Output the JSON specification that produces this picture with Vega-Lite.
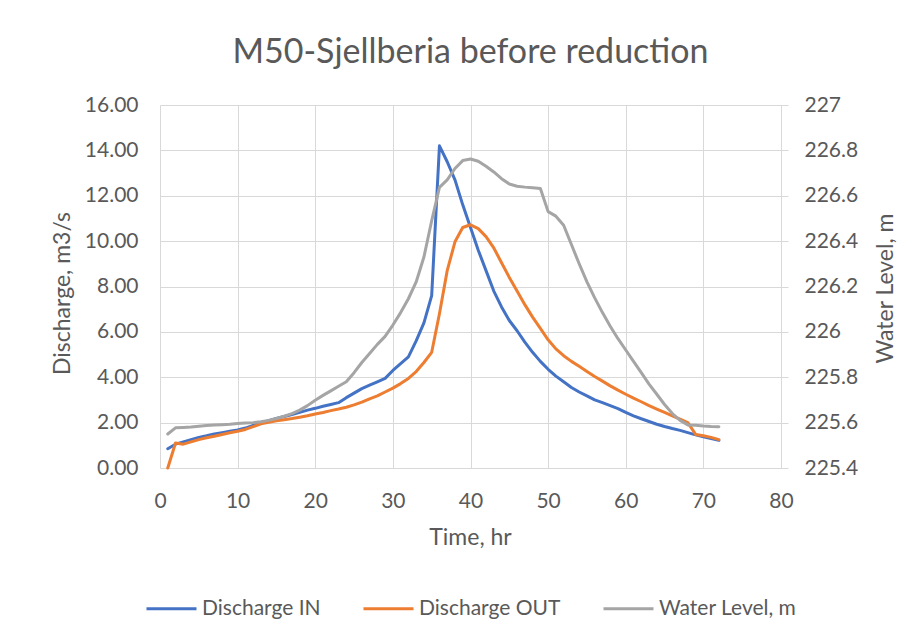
{
  "$schema": "https://vega.github.io/schema/vega-lite/v6.json",
  "width": 621,
  "height": 363,
  "autosize": {"type": "none"},
  "padding": {"left": 160, "top": 105, "right": 138, "bottom": 176},
  "background": "white",
  "title": {
    "text": "M50-Sjellberia before reduction",
    "font": "Lato",
    "fontSize": 34,
    "fontWeight": "normal",
    "color": "#595959",
    "anchor": "middle",
    "frame": "group",
    "baseline": "alphabetic",
    "offset": -3
  },
  "config": {
    "view": {"stroke": null},
    "axis": {
      "labelFont": "Lato",
      "labelFontSize": 21,
      "labelColor": "#595959",
      "labelFlush": false,
      "labelOverlap": false,
      "titleFont": "Lato",
      "titleFontSize": 23,
      "titleFontWeight": "normal",
      "titleColor": "#595959",
      "gridColor": "#D9D9D9",
      "gridWidth": 1,
      "domainColor": "#D9D9D9",
      "tickColor": "#D9D9D9"
    },
    "legend": {
      "labelFont": "Lato",
      "labelFontSize": 21,
      "labelColor": "#595959"
    }
  },
  "data": {
    "values": [
      {"t": 1, "Discharge IN": 0.85, "Discharge OUT": 0.0, "WL": 225.55},
      {"t": 2, "Discharge IN": 1.05, "Discharge OUT": 1.1, "WL": 225.577},
      {"t": 3, "Discharge IN": 1.15, "Discharge OUT": 1.05, "WL": 225.579},
      {"t": 4, "Discharge IN": 1.25, "Discharge OUT": 1.15, "WL": 225.581},
      {"t": 5, "Discharge IN": 1.35, "Discharge OUT": 1.25, "WL": 225.584},
      {"t": 6, "Discharge IN": 1.42, "Discharge OUT": 1.33, "WL": 225.587},
      {"t": 7, "Discharge IN": 1.5, "Discharge OUT": 1.4, "WL": 225.589},
      {"t": 8, "Discharge IN": 1.56, "Discharge OUT": 1.48, "WL": 225.591},
      {"t": 9, "Discharge IN": 1.62, "Discharge OUT": 1.55, "WL": 225.593},
      {"t": 10, "Discharge IN": 1.68, "Discharge OUT": 1.62, "WL": 225.596},
      {"t": 11, "Discharge IN": 1.76, "Discharge OUT": 1.7, "WL": 225.598},
      {"t": 12, "Discharge IN": 1.88, "Discharge OUT": 1.82, "WL": 225.6},
      {"t": 13, "Discharge IN": 1.98, "Discharge OUT": 1.95, "WL": 225.604},
      {"t": 14, "Discharge IN": 2.08, "Discharge OUT": 2.02, "WL": 225.61},
      {"t": 15, "Discharge IN": 2.18, "Discharge OUT": 2.08, "WL": 225.618},
      {"t": 16, "Discharge IN": 2.27, "Discharge OUT": 2.13, "WL": 225.628},
      {"t": 17, "Discharge IN": 2.36, "Discharge OUT": 2.18, "WL": 225.64},
      {"t": 18, "Discharge IN": 2.45, "Discharge OUT": 2.24, "WL": 225.655},
      {"t": 19, "Discharge IN": 2.55, "Discharge OUT": 2.3, "WL": 225.675},
      {"t": 20, "Discharge IN": 2.63, "Discharge OUT": 2.38, "WL": 225.699},
      {"t": 21, "Discharge IN": 2.72, "Discharge OUT": 2.45, "WL": 225.72},
      {"t": 22, "Discharge IN": 2.8, "Discharge OUT": 2.53, "WL": 225.74},
      {"t": 23, "Discharge IN": 2.88, "Discharge OUT": 2.6, "WL": 225.76},
      {"t": 24, "Discharge IN": 3.1, "Discharge OUT": 2.68, "WL": 225.78},
      {"t": 25, "Discharge IN": 3.3, "Discharge OUT": 2.78, "WL": 225.82},
      {"t": 26, "Discharge IN": 3.5, "Discharge OUT": 2.9, "WL": 225.865},
      {"t": 27, "Discharge IN": 3.65, "Discharge OUT": 3.05, "WL": 225.905},
      {"t": 28, "Discharge IN": 3.8, "Discharge OUT": 3.18, "WL": 225.945},
      {"t": 29, "Discharge IN": 3.95, "Discharge OUT": 3.35, "WL": 225.98},
      {"t": 30, "Discharge IN": 4.3, "Discharge OUT": 3.52, "WL": 226.03},
      {"t": 31, "Discharge IN": 4.6, "Discharge OUT": 3.72, "WL": 226.085},
      {"t": 32, "Discharge IN": 4.9, "Discharge OUT": 3.95, "WL": 226.146},
      {"t": 33, "Discharge IN": 5.6, "Discharge OUT": 4.25, "WL": 226.22},
      {"t": 34, "Discharge IN": 6.4, "Discharge OUT": 4.65, "WL": 226.33},
      {"t": 35, "Discharge IN": 7.6, "Discharge OUT": 5.1, "WL": 226.49},
      {"t": 36, "Discharge IN": 14.2, "Discharge OUT": 6.8, "WL": 226.637},
      {"t": 37, "Discharge IN": 13.5, "Discharge OUT": 8.7, "WL": 226.67},
      {"t": 38, "Discharge IN": 12.7, "Discharge OUT": 9.97, "WL": 226.72},
      {"t": 39, "Discharge IN": 11.6, "Discharge OUT": 10.6, "WL": 226.755},
      {"t": 40, "Discharge IN": 10.6, "Discharge OUT": 10.72, "WL": 226.762},
      {"t": 41, "Discharge IN": 9.6, "Discharge OUT": 10.55, "WL": 226.752},
      {"t": 42, "Discharge IN": 8.7, "Discharge OUT": 10.2, "WL": 226.73},
      {"t": 43, "Discharge IN": 7.8, "Discharge OUT": 9.7, "WL": 226.705},
      {"t": 44, "Discharge IN": 7.1, "Discharge OUT": 9.05, "WL": 226.675},
      {"t": 45, "Discharge IN": 6.5, "Discharge OUT": 8.4, "WL": 226.652},
      {"t": 46, "Discharge IN": 6.05, "Discharge OUT": 7.8, "WL": 226.642},
      {"t": 47, "Discharge IN": 5.55, "Discharge OUT": 7.2, "WL": 226.638},
      {"t": 48, "Discharge IN": 5.1, "Discharge OUT": 6.65, "WL": 226.635},
      {"t": 49, "Discharge IN": 4.7, "Discharge OUT": 6.15, "WL": 226.632},
      {"t": 50, "Discharge IN": 4.35, "Discharge OUT": 5.65, "WL": 226.53},
      {"t": 51, "Discharge IN": 4.05, "Discharge OUT": 5.25, "WL": 226.51},
      {"t": 52, "Discharge IN": 3.8, "Discharge OUT": 4.95, "WL": 226.47},
      {"t": 53, "Discharge IN": 3.55, "Discharge OUT": 4.7, "WL": 226.385},
      {"t": 54, "Discharge IN": 3.35, "Discharge OUT": 4.48, "WL": 226.3},
      {"t": 55, "Discharge IN": 3.18, "Discharge OUT": 4.25, "WL": 226.22},
      {"t": 56, "Discharge IN": 3.0, "Discharge OUT": 4.03, "WL": 226.15},
      {"t": 57, "Discharge IN": 2.88, "Discharge OUT": 3.83, "WL": 226.085},
      {"t": 58, "Discharge IN": 2.75, "Discharge OUT": 3.62, "WL": 226.025},
      {"t": 59, "Discharge IN": 2.62, "Discharge OUT": 3.43, "WL": 225.97},
      {"t": 60, "Discharge IN": 2.45, "Discharge OUT": 3.25, "WL": 225.92},
      {"t": 61, "Discharge IN": 2.3, "Discharge OUT": 3.08, "WL": 225.87},
      {"t": 62, "Discharge IN": 2.17, "Discharge OUT": 2.92, "WL": 225.82},
      {"t": 63, "Discharge IN": 2.05, "Discharge OUT": 2.75, "WL": 225.77},
      {"t": 64, "Discharge IN": 1.93, "Discharge OUT": 2.6, "WL": 225.725},
      {"t": 65, "Discharge IN": 1.83, "Discharge OUT": 2.45, "WL": 225.68},
      {"t": 66, "Discharge IN": 1.74, "Discharge OUT": 2.3, "WL": 225.64},
      {"t": 67, "Discharge IN": 1.66, "Discharge OUT": 2.15, "WL": 225.61},
      {"t": 68, "Discharge IN": 1.56, "Discharge OUT": 2.0, "WL": 225.59},
      {"t": 69, "Discharge IN": 1.46, "Discharge OUT": 1.48, "WL": 225.588},
      {"t": 70, "Discharge IN": 1.38, "Discharge OUT": 1.42, "WL": 225.585},
      {"t": 71, "Discharge IN": 1.3, "Discharge OUT": 1.35, "WL": 225.583},
      {"t": 72, "Discharge IN": 1.22, "Discharge OUT": 1.25, "WL": 225.582}
    ]
  },
  "encoding": {
    "x": {
      "field": "t",
      "type": "quantitative",
      "scale": {"domain": [0, 80], "nice": false, "zero": false},
      "axis": {
        "title": "Time, hr",
        "values": [0, 10, 20, 30, 40, 50, 60, 70, 80],
        "format": "d",
        "ticks": false,
        "tickSize": 0,
        "labelPadding": 39,
        "labelBaseline": "alphabetic",
        "titleBaseline": "alphabetic",
        "titleY": 76,
        "titleX": 310,
        "grid": true,
        "domain": true
      }
    }
  },
  "layer": [
    {
      "transform": [
        {"fold": ["Discharge IN", "Discharge OUT"], "as": ["series", "q"]}
      ],
      "mark": {"type": "line", "strokeWidth": 3, "strokeJoin": "round", "strokeCap": "round"},
      "encoding": {
        "y": {
          "field": "q",
          "type": "quantitative",
          "scale": {"domain": [0, 16], "nice": false},
          "axis": {
            "title": "Discharge, m3/s",
            "orient": "left",
            "values": [0, 2, 4, 6, 8, 10, 12, 14, 16],
            "format": ".2f",
            "ticks": false,
            "tickSize": 0,
            "domain": false,
            "grid": true,
            "labelPadding": 22,
            "titleAngle": -90,
            "titleBaseline": "middle",
            "titleX": -98,
            "titleY": 188
          }
        },
        "color": {
          "field": "series",
          "type": "nominal",
          "scale": {
            "domain": ["Discharge IN", "Discharge OUT", "Water Level, m"],
            "range": ["#4472C4", "#ED7D31", "#A5A5A5"]
          },
          "legend": {
            "title": null,
            "orient": "none",
            "direction": "horizontal",
            "legendX": -15,
            "legendY": 477,
            "symbolType": "stroke",
            "symbolSize": 2500,
            "symbolStrokeWidth": 3,
            "labelOffset": 4,
            "columnPadding": 36,
            "padding": 0
          }
        }
      }
    },
    {
      "mark": {"type": "line", "strokeWidth": 3, "strokeJoin": "round", "strokeCap": "round"},
      "encoding": {
        "y": {
          "field": "WL",
          "type": "quantitative",
          "scale": {"domain": [225.4, 227], "nice": false, "zero": false},
          "axis": {
            "title": "Water Level, m",
            "orient": "right",
            "values": [225.4, 225.6, 225.8, 226, 226.2, 226.4, 226.6, 226.8, 227],
            "format": "~f",
            "ticks": true,
            "tickSize": 7,
            "domain": true,
            "grid": false,
            "labelPadding": 16,
            "titleAngle": -90,
            "titleBaseline": "middle",
            "titleX": 104,
            "titleY": 183
          }
        },
        "color": {"datum": "Water Level, m"}
      }
    }
  ],
  "resolve": {"scale": {"y": "independent"}}
}
